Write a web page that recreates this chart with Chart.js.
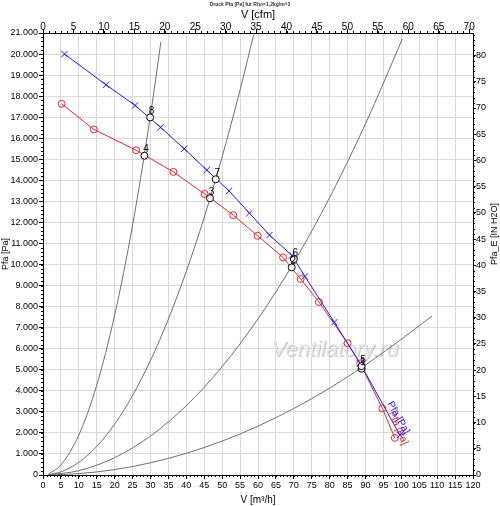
<!DOCTYPE html>
<html>
<head>
<meta charset="utf-8">
<script src="https://cdn.jsdelivr.net/npm/chart.js@4.4.1/dist/chart.umd.min.js"></script>
<style>
  html, body { margin: 0; padding: 0; background: #fff; }
  canvas { display: block; }
</style>
</head>
<body>
<canvas id="chart" width="500" height="506"></canvas>
<script>
'use strict';

// fan curves, V [m3/h] / Pfa [Pa]
var blueFlow = [6, 17.6, 25.7, 32.8, 39.4, 45.7, 51.9, 57.6, 63.2, 69.5, 73.1, 81.3, 88.5, 99.6];
var bluePfa  = [20000, 18540, 17560, 16520, 15500, 14490, 13500, 12440, 11400, 10430, 9435, 7256, 5300, 1900];
var redFlow  = [5.2, 14.2, 26, 36.4, 45.1, 53.1, 59.9, 67, 71.9, 77, 85, 88.5, 94.7, 98.2];
var redPfa   = [17635, 16420, 15430, 14400, 13356, 12346, 11365, 10336, 9313, 8223, 6260, 5300, 3166, 1763];

// operating points
var dutyFlow   = [88.9, 69.4, 46.6, 28.3, 88.9, 70, 48.2, 29.9];
var dutyPfa    = [5050, 9863, 13150, 15170, 5170, 10260, 14050, 16990];
var dutyLabels = ['1', '2', '3', '4', '5', '6', '7', '8'];

// system curves (gray)
var sys1Flow = [1.5, 5, 10, 15, 20, 25, 30, 32.9];
var sys1Pfa  = [40, 475, 1900, 4275, 7600, 11875, 17100, 20570];
var sys2Flow = [1.5, 5, 10, 15, 20, 25, 30, 35, 40, 45, 50, 55, 58.8];
var sys2Pfa  = [14, 150, 605, 1360, 2420, 3780, 5445, 7410, 9680, 12250, 15125, 18300, 20920];
var sys3Flow = [1.5, 10, 20, 30, 40, 50, 60, 70, 80, 90, 100.3];
var sys3Pfa  = [5, 206, 824, 1854, 3296, 5150, 7416, 10094, 13184, 16686, 20724];
var sys4Flow = [1.5, 10, 20, 30, 40, 50, 60, 70, 80, 90, 100, 108.6];
var sys4Pfa  = [1, 65, 258, 580, 1032, 1612, 2322, 3160, 4128, 5224, 6450, 7560];

var seriesNames = ['Pfa [Pa]', 'Pfa [Pa]'];
var rightTitle = 'Pfa_E [IN H2O]';
var CFM_PER_M3H = 0.588578;
var PA_PER_INH2O = 249.089;

function pts(xs, ys) {
  return xs.map(function (x, i) { return { x: x, y: ys[i] }; });
}

function dePoints(v) {
  return String(v).replace(/\B(?=(\d{3})+(?!\d))/g, '.');
}

var FONT = '"Liberation Sans", Arial, sans-serif';
var BLUE = '#1a1aff';
var RED = '#e8262a';
var GRAY = '#6e6e6e';

function sysCurve(xs, ys) {
  return {
    data: pts(xs, ys), showLine: true, borderColor: GRAY, borderWidth: 1,
    pointRadius: 0, cubicInterpolationMode: 'monotone', order: 3
  };
}

var minorTicks = {
  id: 'minorTicks',
  afterDraw: function (chart) {
    var ctx = chart.ctx, a = chart.chartArea;
    var defs = [['x', 1], ['x2', 1], ['y', 200], ['y2', 1]];
    ctx.save();
    ctx.strokeStyle = '#000';
    ctx.lineWidth = 1;
    defs.forEach(function (d) {
      var s = chart.scales[d[0]];
      ctx.beginPath();
      for (var v = s.min; v <= s.max + 1e-9; v += d[1]) {
        var p = Math.round(s.getPixelForValue(v)) + 0.5;
        if (d[0] === 'x') { ctx.moveTo(p, a.bottom); ctx.lineTo(p, a.bottom + 2); }
        if (d[0] === 'x2') { ctx.moveTo(p, a.top); ctx.lineTo(p, a.top - 2); }
        if (d[0] === 'y') { ctx.moveTo(a.left, p); ctx.lineTo(a.left - 2, p); }
        if (d[0] === 'y2') { ctx.moveTo(a.right, p); ctx.lineTo(a.right + 2, p); }
      }
      ctx.stroke();
    });
    // right axis title, reading bottom to top
    ctx.save();
    ctx.translate(chart.width - 5, (a.top + a.bottom) / 2 - 20);
    ctx.rotate(-Math.PI / 2);
    ctx.font = '9px ' + FONT;
    ctx.fillStyle = '#000';
    ctx.textAlign = 'center';
    ctx.textBaseline = 'middle';
    ctx.fillText(rightTitle, 0, 0);
    ctx.restore();
    ctx.restore();
  }
};

var watermark = {
  id: 'watermark',
  beforeDatasetsDraw: function (chart) {
    var ctx = chart.ctx;
    var px = chart.scales.x.getPixelForValue(81.5);
    var py = chart.scales.y.getPixelForValue(5960);
    ctx.save();
    ctx.font = 'italic 22px ' + FONT;
    ctx.textAlign = 'center';
    ctx.textBaseline = 'middle';
    ctx.fillStyle = 'rgba(120,120,120,0.4)';
    ctx.fillText('Ventilatory.ru', px + 1, py + 1);
    ctx.fillStyle = 'rgba(232,232,232,0.95)';
    ctx.fillText('Ventilatory.ru', px, py);
    ctx.restore();
  }
};

var pointLabels = {
  id: 'pointLabels',
  afterDatasetsDraw: function (chart) {
    var ctx = chart.ctx;
    ctx.save();
    // duty point numbers
    var meta = chart.getDatasetMeta(2);
    ctx.font = '10px ' + FONT;
    ctx.fillStyle = '#000';
    ctx.textAlign = 'center';
    ctx.textBaseline = 'bottom';
    meta.data.forEach(function (el, i) {
      ctx.fillText(dutyLabels[i], el.x + 1.5, el.y - 1);
    });
    // series names along the line end
    [[1, RED, 10], [0, BLUE, 2]].forEach(function (s) {
      var m = chart.getDatasetMeta(s[0]).data;
      var p1 = m[m.length - 2], p2 = m[m.length - 1];
      var ang = Math.atan2(p2.y - p1.y, p2.x - p1.x);
      ctx.save();
      ctx.translate(p2.x, p2.y);
      ctx.rotate(ang);
      ctx.font = '10px ' + FONT;
      ctx.fillStyle = s[1];
      ctx.textAlign = 'right';
      ctx.textBaseline = 'bottom';
      ctx.fillText(seriesNames[s[0]], s[2], -2);
      ctx.restore();
    });
    ctx.restore();
  }
};

var tickFont = { family: FONT, size: 9 };
var titleFont = { family: FONT, size: 10 };

new Chart(document.getElementById('chart').getContext('2d'), {
  type: 'scatter',
  data: {
    datasets: [
      {
        data: pts(blueFlow, bluePfa), showLine: true, borderColor: BLUE, borderWidth: 1,
        pointStyle: 'crossRot', pointRadius: 4.5, pointBorderColor: BLUE, pointBorderWidth: 1, order: 1
      },
      {
        data: pts(redFlow, redPfa), showLine: true, borderColor: RED, borderWidth: 1,
        pointStyle: 'circle', pointRadius: 3.5, pointBackgroundColor: 'rgba(0,0,0,0)',
        pointBorderColor: RED, pointBorderWidth: 1, order: 2
      },
      {
        data: pts(dutyFlow, dutyPfa), showLine: false, pointStyle: 'circle', pointRadius: 3.5,
        pointBackgroundColor: '#fff', pointBorderColor: '#000', pointBorderWidth: 1, order: 0
      },
      sysCurve(sys1Flow, sys1Pfa),
      sysCurve(sys2Flow, sys2Pfa),
      sysCurve(sys3Flow, sys3Pfa),
      sysCurve(sys4Flow, sys4Pfa)
    ]
  },
  options: {
    responsive: false,
    animation: false,
    layout: { padding: 0 },
    plugins: {
      legend: { display: false },
      tooltip: { enabled: false },
      title: {
        display: true,
        text: 'Druck Pfa [Pa] für Rho=1,2kg/m^3',
        font: { family: FONT, size: 5 },
        color: '#333',
        padding: { top: 2, bottom: 0 }
      }
    },
    scales: {
      x: {
        type: 'linear', position: 'bottom', min: 0, max: 120,
        ticks: { stepSize: 5, autoSkip: false, maxRotation: 0, font: tickFont, color: '#000', padding: 1 },
        grid: { color: '#dadada', tickColor: '#000', tickLength: 4 },
        border: { color: '#000' },
        title: { display: true, text: 'V [m³/h]', font: titleFont, color: '#000', padding: 0 },
        afterFit: function (s) { s.height = 31; }
      },
      x2: {
        type: 'linear', position: 'top', min: 0, max: 120 * CFM_PER_M3H,
        ticks: { stepSize: 5, includeBounds: false, autoSkip: false, maxRotation: 0, font: { family: FONT, size: 10 }, color: '#000', padding: -4 },
        grid: { drawOnChartArea: false, tickColor: '#000', tickLength: 4 },
        border: { color: '#000' },
        title: { display: true, text: 'V [cfm]', font: { family: FONT, size: 11 }, color: '#000', padding: { top: 0, bottom: 0 } },
        afterFit: function (s) { s.height = 25; }
      },
      y: {
        type: 'linear', position: 'left', min: 0, max: 21000,
        ticks: { stepSize: 1000, autoSkip: false, font: tickFont, color: '#000', padding: 1,
          callback: function (v) { return dePoints(v); } },
        grid: { color: '#dadada', tickColor: '#000', tickLength: 4 },
        border: { color: '#000' },
        title: { display: true, text: 'Pfa [Pa]', font: tickFont, color: '#000', padding: { top: 0, bottom: 0, left: 3 } },
        afterFit: function (s) { s.width = 43; }
      },
      y2: {
        type: 'linear', position: 'right', min: 0, max: 21000 / PA_PER_INH2O,
        ticks: { stepSize: 5, includeBounds: false, autoSkip: false, font: tickFont, color: '#000', padding: 0 },
        grid: { drawOnChartArea: false, tickColor: '#000', tickLength: 3 },
        border: { color: '#000' },
        title: { display: false },
        afterFit: function (s) { s.width = 27; }
      }
    }
  },
  plugins: [minorTicks, watermark, pointLabels]
});
</script>
</body>
</html>
